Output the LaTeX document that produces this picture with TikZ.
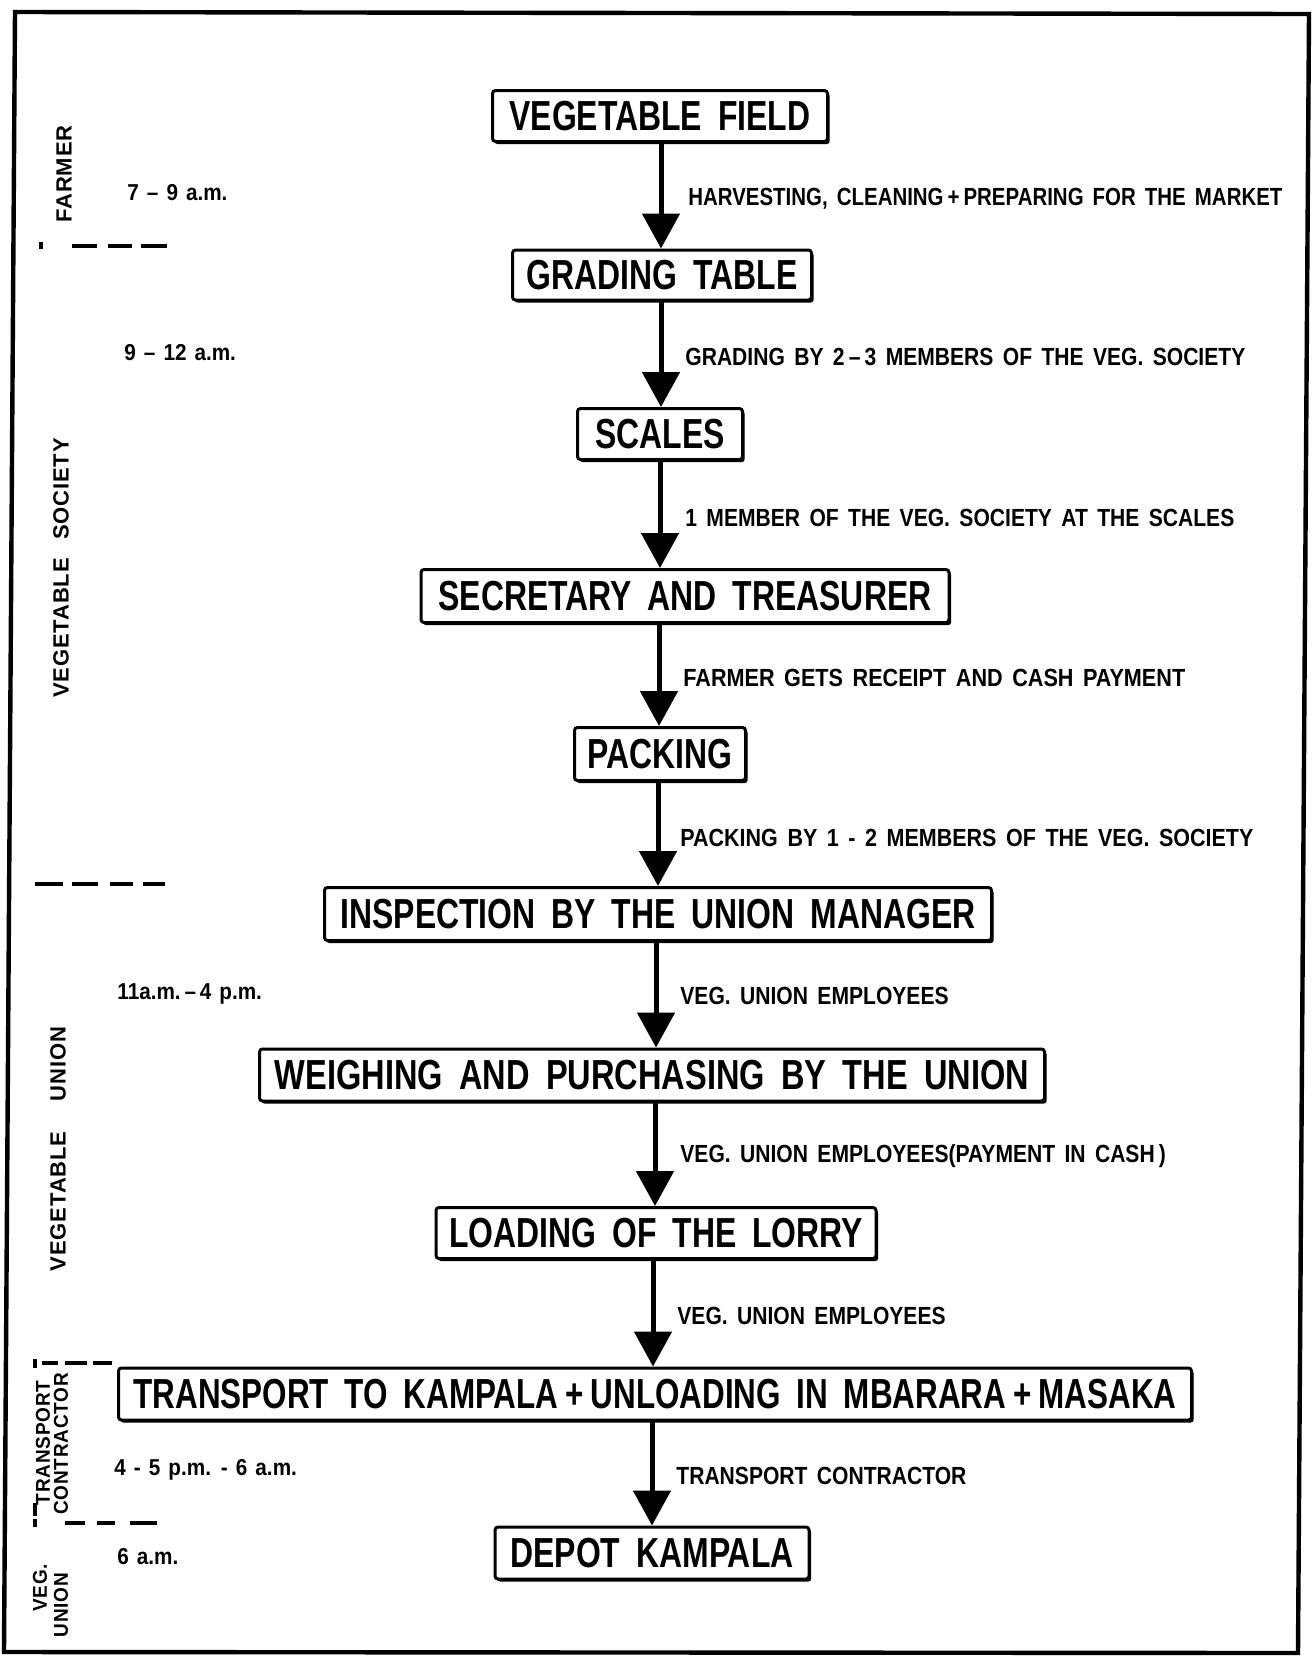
\documentclass[tikz,border=0pt]{standalone}
\usepackage{fontspec}
\setmainfont{Liberation Sans}
\newfontfamily\boxfont[FakeStretch=0.76, WordSpace=1.8]{Liberation Sans}
\newfontfamily\lblfont[FakeStretch=0.85, WordSpace=1.6]{Liberation Sans}
\newfontfamily\timefont[FakeStretch=0.9, WordSpace=1.4]{Liberation Sans}
\newfontfamily\sidefont[FakeStretch=0.95, WordSpace=2.2, LetterSpace=4]{Liberation Sans}
\newfontfamily\sidebigfont[FakeStretch=1.0, WordSpace=2.6, LetterSpace=4]{Liberation Sans}
\usetikzlibrary{arrows.meta,shadows}
\begin{document}
\begin{tikzpicture}[x=0.5pt,y=-0.5pt,
  stagebox/.style={draw, line width=1.5pt, fill=white, rounded corners=1.5pt, inner sep=0pt,
    font=\boxfont\bfseries\fontsize{21}{21}\selectfont,
    general shadow={fill=black, shadow xshift=1.1pt, shadow yshift=-1.3pt, rounded corners=1.5pt}},
  flow/.style={line width=2.5pt, -{Triangle[width=18.5pt,length=17.5pt]}},
  steplbl/.style={anchor=west, inner sep=0pt, font=\lblfont\bfseries\fontsize{12.4}{12.4}\selectfont},
  timelbl/.style={anchor=west, inner sep=0pt, font=\timefont\bfseries\fontsize{11.5}{11.5}\selectfont},
  sidelbl/.style={rotate=90, inner sep=0pt, font=\sidefont\bfseries\fontsize{10}{10}\selectfont},
  sidebig/.style={rotate=90, inner sep=0pt, font=\sidebigfont\bfseries\fontsize{11}{11}\selectfont},
  sepdash/.style={line width=2pt},
  framing/.style={line width=2.2pt, line join=miter}
]
\useasboundingbox (0,0) rectangle (1312,1656);
\fill[white] (0,0) rectangle (1312,1656);
% frame
\draw[framing] (15,12) -- (1309,14) -- (1298,1653) -- (4,1652) -- cycle;

% boxes
\node[stagebox, minimum width=167.5pt, minimum height=25.5pt] (vf) at (660,116) {VEGETABLE FIELD};
\node[stagebox, minimum width=149.5pt, minimum height=25pt] (gt) at (662,275) {GRADING TABLE};
\node[stagebox, minimum width=82.5pt, minimum height=25.5pt] (sc) at (660,434) {SCALES};
\node[stagebox, minimum width=264pt, minimum height=26.5pt] (st) at (685,596) {SECRETARY AND TREASURER};
\node[stagebox, minimum width=85.5pt, minimum height=26.5pt] (pk) at (660,754) {PACKING};
\node[stagebox, minimum width=333.5pt, minimum height=26.5pt] (in) at (658,914) {INSPECTION BY THE UNION MANAGER};
\node[stagebox, minimum width=392.5pt, minimum height=26pt] (wp) at (652,1075) {\scalebox{1.02}[1]{WEIGHING AND PURCHASING BY THE UNION}};
\node[stagebox, minimum width=220pt, minimum height=25.5pt] (ll) at (656,1233) {LOADING OF THE LORRY};
\node[stagebox, minimum width=536.5pt, minimum height=26pt] (tr) at (655,1394) {\scalebox{0.985}[1]{TRANSPORT TO KAMPALA\,+\,UNLOADING IN MBARARA\,+\,MASAKA}};
\node[stagebox, minimum width=157pt, minimum height=26pt] (dk) at (652,1553) {DEPOT KAMPALA};

% arrow columns
\coordinate (a1) at (661,0);
\coordinate (a2) at (661,0);
\coordinate (a3) at (660,0);
\coordinate (a4) at (659,0);
\coordinate (a5) at (658,0);
\coordinate (a6) at (656,0);
\coordinate (a7) at (655,0);
\coordinate (a8) at (653,0);
\coordinate (a9) at (652,0);

\draw[flow] (vf.south -| a1) -- (gt.north -| a1);
\draw[flow] (gt.south -| a2) -- (sc.north -| a2);
\draw[flow] (sc.south -| a3) -- (st.north -| a3);
\draw[flow] (st.south -| a4) -- (pk.north -| a4);
\draw[flow] (pk.south -| a5) -- (in.north -| a5);
\draw[flow] (in.south -| a6) -- (wp.north -| a6);
\draw[flow] (wp.south -| a7) -- (ll.north -| a7);
\draw[flow] (ll.south -| a8) -- (tr.north -| a8);
\draw[flow] (tr.south -| a9) -- (dk.north -| a9);

% arrow labels
\node[steplbl] (l1) at (688,199) {\scalebox{0.97}[1]{HARVESTING, CLEANING\,+\,PREPARING FOR THE MARKET}};
\node[steplbl] (l2) at (685,357) {GRADING BY 2\,–\,3 MEMBERS OF THE VEG. SOCIETY};
\node[steplbl] (l3) at (685,518) {1 MEMBER OF THE VEG. SOCIETY AT THE SCALES};
\node[steplbl] (l4) at (683,678) {\scalebox{1.025}[1]{FARMER GETS RECEIPT AND CASH PAYMENT}};
\node[steplbl] (l5) at (680,838) {\scalebox{1.02}[1]{PACKING BY 1 - 2 MEMBERS OF THE VEG. SOCIETY}};
\node[steplbl] (l6) at (680,996) {VEG. UNION EMPLOYEES};
\node[steplbl] (l7) at (680,1156) {VEG. UNION EMPLOYEES(PAYMENT IN CASH\,)};
\node[steplbl] (l8) at (677,1316) {VEG. UNION EMPLOYEES};
\node[steplbl] (l9) at (676,1476) {TRANSPORT CONTRACTOR};

% times
\node[timelbl] (t1) at (127,193) {7 – 9 a.m.};
\node[timelbl] (t2) at (124,353) {9 – 12 a.m.};
\node[timelbl] (t3) at (117,994) {11a.m.\,–\,4 p.m.};
\node[timelbl] (t4) at (114,1470) {4 - 5 p.m. - 6 a.m.};
\node[timelbl] (t5) at (117,1557) {6 a.m.};

% side labels
\node[sidebig] (s1) at (64,174) {FARMER};
\node[sidebig] (s2) at (61,568) {VEGETABLE SOCIETY};
\node[sidebig] (s3) at (58,1149) {VEGETABLE\hspace{6pt} UNION};
\node[sidelbl] (s4) at (43,1443) {TRANSPORT};
\node[sidelbl] (s5) at (61,1444) {CONTRACTOR};
\node[sidelbl] (s6) at (40,1588) {VEG.};
\node[sidelbl] (s7) at (61,1605) {UNION};

% separators
\draw[sepdash] (41,242) -- (41,249)
  (72,246) -- (97,246) (108,246) -- (132,246) (141,246) -- (167,246);
\draw[sepdash] (35,884) -- (63,884) (72,884) -- (98,884) (110,884) -- (133,884) (143,884) -- (165,884);
\draw[sepdash] (35,1359) -- (35,1368)
  (42,1363) -- (58,1363) (65,1363) -- (87,1363) (93,1363) -- (112,1363);
\draw[sepdash] (35,1503) -- (35,1516) (35,1519) -- (35,1527)
  (65,1523) -- (85,1523) (97,1523) -- (115,1523) (130,1523) -- (157,1523);
\end{tikzpicture}
\end{document}
